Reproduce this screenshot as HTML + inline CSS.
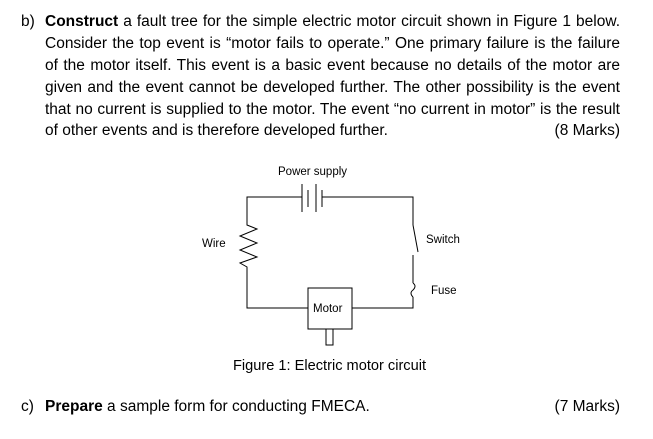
<!DOCTYPE html>
<html><head><meta charset="utf-8"><style>
body{margin:0;width:653px;height:439px;background:#fff;font-family:"Liberation Sans",Arial,sans-serif;color:#000;position:relative;overflow:hidden}
.l{position:absolute;left:45px;width:575px;font-size:15.5px;white-space:nowrap;text-align:justify;text-align-last:justify;line-height:18px}
.a{position:absolute;font-size:15.5px;white-space:nowrap;line-height:18px}
.s{position:absolute;font-size:11.5px;white-space:nowrap;line-height:13px}
</style></head><body>
<div class="a" style="left:21px;top:13px">b)</div>
<div class="l" style="top:13px"><b>Construct</b> a fault tree for the simple electric motor circuit shown in Figure 1 below.</div>
<div class="l" style="top:35px">Consider the top event is “motor fails to operate.” One primary failure is the failure</div>
<div class="l" style="top:57px">of the motor itself. This event is a basic event because no details of the motor are</div>
<div class="l" style="top:79px">given and the event cannot be developed further. The other possibility is the event</div>
<div class="l" style="top:101px">that no current is supplied to the motor. The event “no current in motor” is the result</div>
<div class="a" style="left:45px;top:122px">of other events and is therefore developed further.</div>
<div class="a" style="right:33px;top:122px">(8 Marks)</div>

<div class="s" style="left:278px;top:166px">Power supply</div>
<div class="s" style="left:202px;top:238px">Wire</div>
<div class="s" style="left:426px;top:234px">Switch</div>
<div class="s" style="left:431px;top:285px">Fuse</div>
<div class="s" style="left:313px;top:303px">Motor</div>
<svg width="653" height="439" style="position:absolute;left:0;top:0" fill="none" stroke="#000" stroke-width="1">
<path d="M302,197 H247 V225 L257,229 L240,236 L257,243 L240,250 L257,257 L240,263 L247,267 V308 H308"/>
<path d="M352,308 H413 V297"/>
<path d="M413,283 V255"/>
<path d="M413,225 V197 H322"/>
<path d="M302,184 V212 M308,190 V207 M316,184 V212 M322,190 V207"/>
<path d="M413,225 L418,252"/>
<path d="M413,283 q4,3 0,7 q-4,3 0,7"/>
<rect x="308" y="288" width="44" height="41"/>
<rect x="326" y="329" width="7" height="16"/>
</svg>
<div class="a" style="left:233px;top:357px;font-size:14.6px">Figure 1: Electric motor circuit</div>
<div class="a" style="left:21px;top:398px">c)</div>
<div class="a" style="left:45px;top:398px"><b>Prepare</b> a sample form for conducting FMECA.</div>
<div class="a" style="right:33px;top:398px">(7 Marks)</div>
</body></html>
